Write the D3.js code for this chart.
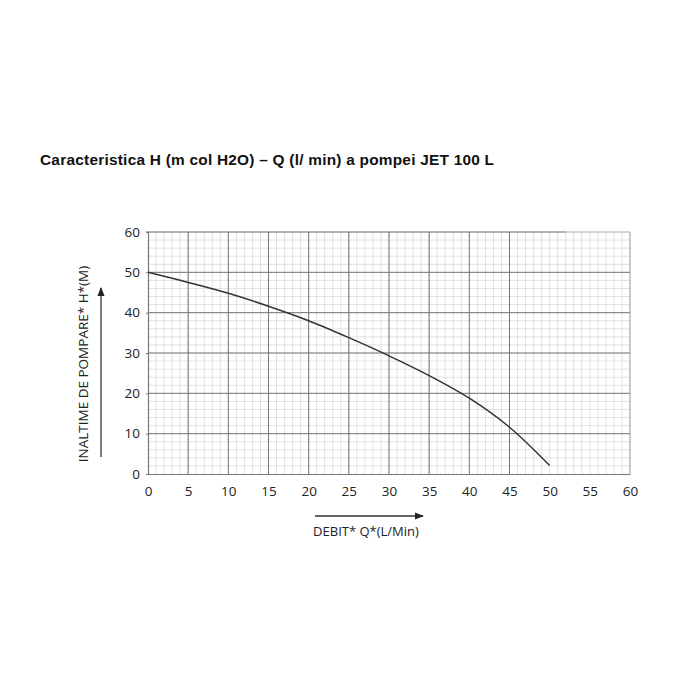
<!DOCTYPE html>
<html><head><meta charset="utf-8">
<script src="https://cdn.jsdelivr.net/npm/d3@7"></script>
<style>body{margin:0;background:#fff}</style>
</head><body>
<script>
const titleText = "Caracteristica H (m col H2O) \u2013 Q (l/ min) a pompei JET 100 L";
const xLabel = "DEBIT* Q*(L/Min)";
const yLabel = "INALTIME DE POMPARE*  H*(M)";
const flowQ = [0, 5, 10, 15, 20, 25, 30, 35, 40, 45, 50];
const headH = [50, 47.5, 44.8, 41.6, 38.0, 33.8, 29.3, 24.4, 18.8, 11.6, 2.1];
const xTicks = [0, 5, 10, 15, 20, 25, 30, 35, 40, 45, 50, 55, 60];
const yTicks = [0, 10, 20, 30, 40, 50, 60];
const xMajorGrid = [5, 10, 15, 20, 25, 30, 35, 40, 45];

const W = 700, H = 700;
const svg = d3.select("body").append("svg").attr("width", W).attr("height", H);
const x = d3.scaleLinear().domain([0, 60]).range([148, 630]);
const y = d3.scaleLinear().domain([0, 60]).range([474, 232]);

svg.append("text").attr("x", 40).attr("y", 165)
  .attr("font-family", "Liberation Sans, Arial, sans-serif").attr("font-weight", "bold")
  .attr("font-size", 15.4).attr("fill", "#111")
  .attr("textLength", 454).attr("lengthAdjust", "spacing").text(titleText);

const g = svg.append("g");
// minor grid
g.selectAll(".mx").data(d3.range(1, 60)).join("line")
  .attr("x1", d => x(d)).attr("x2", d => x(d)).attr("y1", y(0)).attr("y2", y(60))
  .attr("stroke", "#e0e0e0").attr("stroke-width", 1);
g.selectAll(".my").data(d3.range(2, 60, 2)).join("line")
  .attr("y1", d => y(d)).attr("y2", d => y(d)).attr("x1", x(0)).attr("x2", x(60))
  .attr("stroke", "#e0e0e0").attr("stroke-width", 1);
// major grid
g.selectAll(".Mx").data(xMajorGrid).join("line")
  .attr("x1", d => x(d)).attr("x2", d => x(d)).attr("y1", y(0)).attr("y2", y(60))
  .attr("stroke", "#777").attr("stroke-width", 1);
g.selectAll(".My").data([10, 20, 30, 40, 50]).join("line")
  .attr("y1", d => y(d)).attr("y2", d => y(d)).attr("x1", x(0)).attr("x2", x(60))
  .attr("stroke", "#777").attr("stroke-width", 1);
// frame
g.append("line").attr("x1", x(60)).attr("x2", x(60)).attr("y1", y(0)).attr("y2", y(60)).attr("stroke", "#999");
g.append("line").attr("x1", x(0) - 2).attr("x2", x(52)).attr("y1", y(60)).attr("y2", y(60)).attr("stroke", "#666").attr("stroke-width", 1.2);
g.append("line").attr("x1", x(52)).attr("x2", x(60)).attr("y1", y(60)).attr("y2", y(60)).attr("stroke", "#aaa");

// axes
const xAxis = d3.axisBottom(x).tickValues(xTicks).tickSize(0).tickPadding(12);
const yAxis = d3.axisLeft(y).tickValues(yTicks).tickSize(2).tickPadding(6);
const xa = svg.append("g").attr("transform", `translate(0,${y(0)})`).call(xAxis);
const ya = svg.append("g").attr("transform", `translate(${x(0)},0)`).call(yAxis);
[xa, ya].forEach(a => {
  a.select(".domain").attr("stroke", "#777").attr("stroke-width", 1.2);
  a.selectAll(".tick line").attr("stroke", "#777");
  a.selectAll("text").attr("font-family", "Open Sans, sans-serif").attr("font-size", 13.5).attr("fill", "#222");
});

// curve
const line = d3.line().x((d, i) => x(flowQ[i])).y(d => y(d)).curve(d3.curveCatmullRom);
svg.append("path").datum(headH).attr("d", line).attr("fill", "none")
  .attr("stroke", "#333").attr("stroke-width", 1.5);

// arrows
const defs = svg.append("defs");
defs.append("marker").attr("id", "ah").attr("viewBox", "0 0 10 10").attr("refX", 9).attr("refY", 5)
  .attr("markerWidth", 9).attr("markerHeight", 9).attr("markerUnits", "userSpaceOnUse").attr("orient", "auto")
  .append("path").attr("d", "M0,1 L10,5 L0,9 Z").attr("fill", "#222");
svg.append("line").attr("x1", 101).attr("x2", 101).attr("y1", 457).attr("y2", 288)
  .attr("stroke", "#333").attr("stroke-width", 1.3).attr("marker-end", "url(#ah)");
svg.append("line").attr("x1", 315).attr("x2", 423).attr("y1", 516).attr("y2", 516)
  .attr("stroke", "#333").attr("stroke-width", 1.3).attr("marker-end", "url(#ah)");

svg.append("text").attr("transform", "translate(88,364) rotate(-90)").attr("text-anchor", "middle")
  .attr("font-family", "Open Sans, sans-serif").attr("font-size", 13.5).attr("fill", "#222").text(yLabel);
svg.append("text").attr("x", 366).attr("y", 536).attr("text-anchor", "middle")
  .attr("font-family", "Open Sans, sans-serif").attr("font-size", 13).attr("fill", "#222").text(xLabel);
</script>
</body></html>
